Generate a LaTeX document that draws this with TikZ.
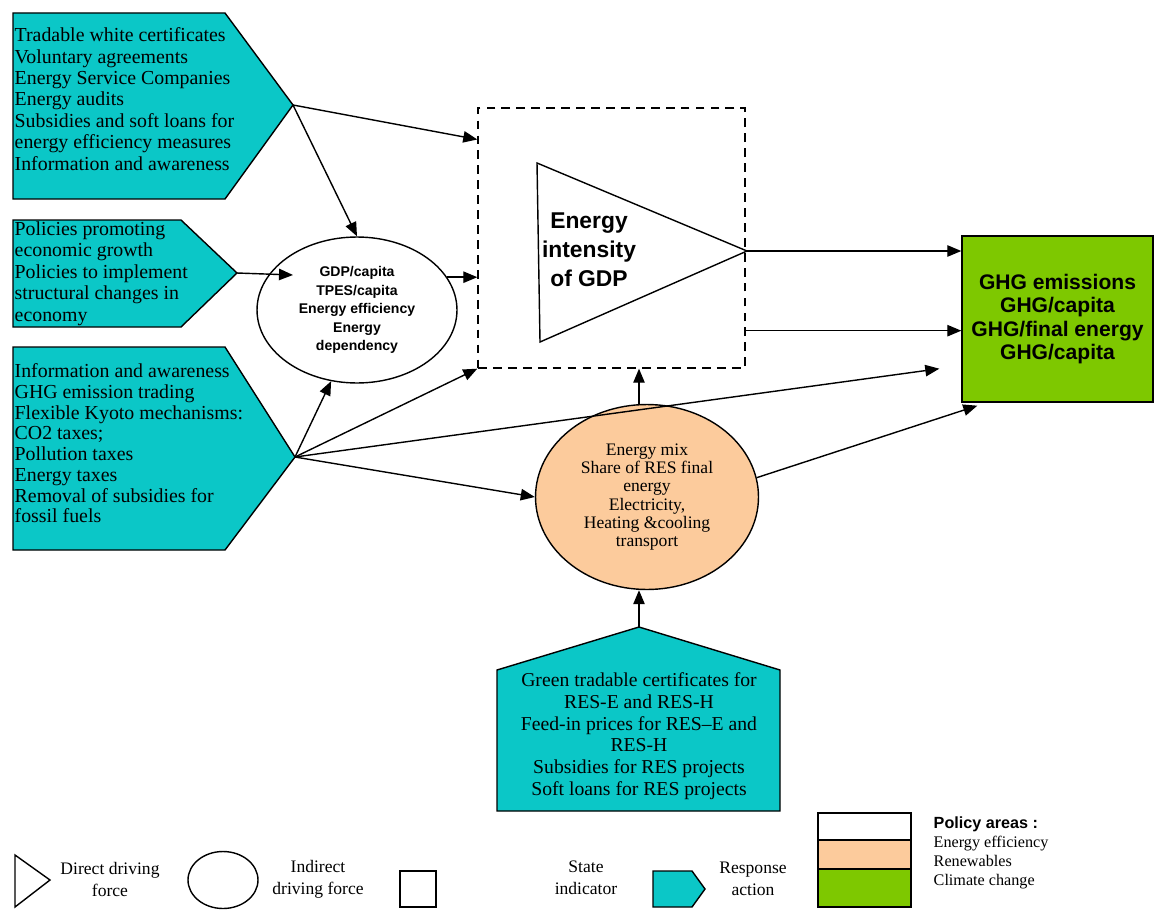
\documentclass[tikz,border=0pt]{standalone}
\usepackage{fontspec}
\setmainfont{Liberation Serif}
\setsansfont{Liberation Sans}
\usetikzlibrary{shapes.geometric,arrows.meta,calc}
\definecolor{respfill}{HTML}{0BC7C7}
\definecolor{renewfill}{HTML}{FCCB9C}
\definecolor{climfill}{HTML}{7EC800}

\begin{document}
\begin{tikzpicture}[x=0.02cm, y=-0.02cm, line width=0.8pt,
    >={Triangle[length=8pt,width=6.5pt]},
    respshape/.style={draw, fill=respfill},
    listtext/.style={font=\fontsize{11.3}{12.2}\selectfont, align=left, inner sep=0pt, anchor=north west},
    legtext/.style={font=\fontsize{10}{12.5}\selectfont, align=center, inner sep=0pt}]
    \useasboundingbox (0,0) rectangle (1155,909);

    % response actions
    \draw[respshape] (13,13) -- (225,13) -- (293,105) -- (225,199) -- (13,199) -- cycle;
    \coordinate (effTip) at (293,105);
    \node[listtext] (effTxt) at (14,27) {Tradable white certificates\\Voluntary agreements\\Energy Service Companies\\Energy audits\\Subsidies and soft loans for\\energy efficiency measures\\Information and awareness};

    \draw[respshape] (13,220) -- (181,220) -- (237,273) -- (181,327) -- (13,327) -- cycle;
    \coordinate (growTip) at (237,273);
    \node[listtext] (growTxt) at (14,221) {Policies promoting\\economic growth\\Policies to implement\\structural changes in\\economy};

    \draw[respshape] (13,347) -- (225,347) -- (295,457) -- (225,550) -- (13,550) -- cycle;
    \coordinate (actTip) at (295,457);
    \node[listtext, font=\fontsize{11.3}{11.8}\selectfont] (actTxt) at (14,363) {Information and awareness\\GHG emission trading\\Flexible Kyoto mechanisms:\\CO2 taxes;\\Pollution taxes\\Energy taxes\\Removal of subsidies for\\fossil fuels};

    \draw[respshape] (497,811) -- (497,670) -- (639,627) -- (780,670) -- (780,811) -- cycle;
    \coordinate (resTip) at (639,627);
    \node[listtext, anchor=north, align=center, font=\fontsize{11.2}{12.4}\selectfont] (resTxt) at (639,672) {Green tradable certificates for\\RES-E and RES-H\\Feed-in prices for RES--E and\\RES-H\\Subsidies for RES projects\\Soft loans for RES projects};

    % driving forces and state
    \node[draw, dash pattern=on 5pt off 3.5pt, minimum width=5.34cm, minimum height=5.2cm, inner sep=0pt] (state) at (611.5,238) {};
    \draw (537,163) -- (747,251) -- (540,342) -- cycle;
    \coordinate (inTip) at (747,251);
    \node[font=\fontsize{13}{16.4}\selectfont\sffamily\bfseries, align=center, inner sep=0pt] (intens) at (589,250) {Energy\\intensity\\of GDP};

    \node[ellipse, draw, minimum width=4cm, minimum height=2.92cm, inner sep=0pt, align=center,
        font=\fontsize{8}{10.6}\selectfont\sffamily\bfseries] (gdp) at (357,310) {GDP/capita\\TPES/capita\\Energy efficiency\\Energy\\dependency};
    \node[ellipse, draw, fill=renewfill, minimum width=4.46cm, minimum height=3.7cm, inner sep=0pt, align=center,
        font=\fontsize{10}{10.4}\selectfont] (res) at (647,497) {Energy mix\\Share of RES final\\energy\\Electricity,\\Heating \&cooling\\transport};
    \node[draw, fill=climfill, minimum width=3.82cm, minimum height=3.32cm, inner sep=0pt, align=center,
        font=\fontsize{12}{13.2}\selectfont\sffamily\bfseries] (ghg) at (1057.5,319) {GHG emissions\\GHG/capita\\GHG/final energy\\GHG/capita};

    % links
    \coordinate (stOut) at ($(state.south east)+(0,-38)$);
    \draw[->] (effTip) -- ($(state.north west)!0.123!(state.south west)$);
    \draw[->] (effTip) -- (gdp.north);
    \draw[->] (growTip) -- ($(gdp.center)+(-64,-35)$);
    \draw[->] (gdp.20) -- (gdp.20 -| state.west);
    \draw[->] (actTip) -- (gdp.250);
    \draw[->] (actTip) -- (state.south west);
    \draw[->] (actTip) -- ($(ghg.south west)+(-22,-34)$);
    \draw[->] (actTip) -- (res.west);
    \draw[->] (resTip |- res.north) -- (resTip |- state.south);
    \draw[->] (resTip) -- (resTip |- res.south);
    \draw[->] (res.10) -- ($(ghg.south west)+(16,3)$);
    \draw[->] (inTip) -- (inTip -| ghg.west);
    \draw[->] (stOut) -- (stOut -| ghg.west);

    % legend
    \draw (15,855) -- (50,880) -- (15,907) -- cycle;
    \node[legtext] (legDirect) at (110,879) {Direct driving\\force};
    \node[ellipse, draw, minimum width=1.4cm, minimum height=1.14cm, inner sep=0pt] (legEll) at (223,880) {};
    \node[legtext] (legIndirect) at (318,879) {Indirect\\driving force};
    \draw (400,871) rectangle (436,907);
    \node[legtext] (legState) at (586,878) {State\\indicator};
    \draw[respshape] (653,871) -- (692,871) -- (705,889) -- (692,907) -- (653,907) -- cycle;
    \node[legtext] (legResp) at (753,879) {Response\\action};
    \draw (818,813) rectangle (911,840);
    \draw[fill=renewfill] (818,840) rectangle (911,869);
    \draw[fill=climfill] (818,869) rectangle (911,907);
    \node[inner sep=0pt, anchor=north west, align=left, font=\fontsize{9.2}{10.8}\selectfont] (legAreas) at (933,816)
        {{\sffamily\bfseries Policy areas :}\\Energy efficiency\\Renewables\\Climate change};
\end{tikzpicture}
\end{document}
